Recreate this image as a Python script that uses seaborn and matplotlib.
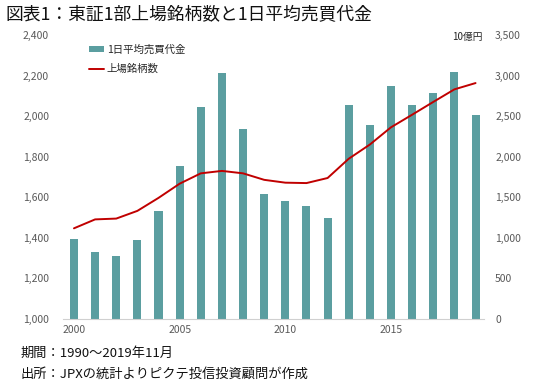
import matplotlib
matplotlib.use("Agg")
import matplotlib.pyplot as plt
import pandas as pd
import seaborn as sns
from matplotlib.lines import Line2D
from matplotlib.patches import Patch

YEARS = list(range(2000, 2020))
TURNOVER = [990, 820, 780, 975, 1325, 1885, 2615, 3030, 2340, 1535,
            1460, 1395, 1245, 2635, 2385, 2875, 2640, 2790, 3045, 2520]
LISTINGS = [1447, 1491, 1495, 1533, 1597, 1667, 1718, 1730, 1718, 1686,
            1672, 1670, 1695, 1790, 1860, 1945, 2007, 2070, 2132, 2163]
X_TICKS = [2000, 2005, 2010, 2015]
LEFT_TICKS = list(range(1000, 2401, 200))
RIGHT_TICKS = list(range(0, 3501, 500))

BAR_COLOR = "#5b9ea0"
LINE_COLOR = "#c00000"
TICK_COLOR = "#595959"

sns.set_theme(style="white")
plt.rcParams["font.family"] = ["Noto Sans CJK JP", "DejaVu Sans"]

df = pd.DataFrame({"year": YEARS, "turnover": TURNOVER, "listings": LISTINGS})

fig = plt.figure(figsize=(5.5, 3.87), dpi=100)
ax = fig.add_axes([0.1145, 0.1757, 0.7655, 0.7339])
ax2 = ax.twinx()

sns.barplot(data=df, x="year", y="turnover", ax=ax2, native_scale=True,
            color=BAR_COLOR, width=0.38, saturation=1, edgecolor="none")
sns.lineplot(data=df, x="year", y="listings", ax=ax, color=LINE_COLOR, linewidth=1.4)

# line above the bars
ax.set_zorder(ax2.get_zorder() + 1)
ax.patch.set_visible(False)

ax.set_xlim(1999.48, 2019.4)
ax.set_ylim(1000, 2400)
ax2.set_ylim(0, 3500)
ax.set_xticks(X_TICKS)
ax.set_yticks(LEFT_TICKS)
ax2.set_yticks(RIGHT_TICKS)
ax.set_yticklabels([f"{v:,}" for v in LEFT_TICKS])
ax2.set_yticklabels([f"{v:,}" for v in RIGHT_TICKS])
ax.set_xlabel("")
ax.set_ylabel("")
ax2.set_xlabel("")
ax2.set_ylabel("")

for a in (ax, ax2):
    for side in ("top", "left", "right", "bottom"):
        a.spines[side].set_visible(False)
    a.tick_params(length=0, labelsize=7.5, labelcolor=TICK_COLOR)
    a.grid(False)
ax.spines["bottom"].set_visible(True)
ax.spines["bottom"].set_color("#d0d0d0")
ax.spines["bottom"].set_linewidth(0.8)
ax.tick_params(axis="y", pad=10)
ax.tick_params(axis="x", pad=4)
ax2.tick_params(axis="y", pad=8)

handles = [Patch(facecolor=BAR_COLOR, edgecolor="none"),
           Line2D([0], [0], color=LINE_COLOR, linewidth=1.4)]
ax.legend(handles, ["1日平均売買代金", "上場銘柄数"], loc="upper left",
          bbox_to_anchor=(0.04, 1.0), frameon=False, fontsize=7.5,
          handlelength=1.4, handleheight=0.6, handletextpad=0.3, labelspacing=0.9)

fig.text(0.822, 0.905, "10億円", fontsize=7, color="#222222", ha="left", va="center")
fig.text(0.01, 0.963, "図表1：東証1部上場銘柄数と1日平均売買代金",
         fontsize=12.8, color="#111111", ha="left", va="center")
fig.text(0.038, 0.088, "期間：1990～2019年11月", fontsize=9.5, color="#111111",
         ha="left", va="center")
fig.text(0.038, 0.033, "出所：JPXの統計よりピクテ投信投資顧問が作成", fontsize=9.5,
         color="#111111", ha="left", va="center")

fig.savefig("out.png", dpi=100)
